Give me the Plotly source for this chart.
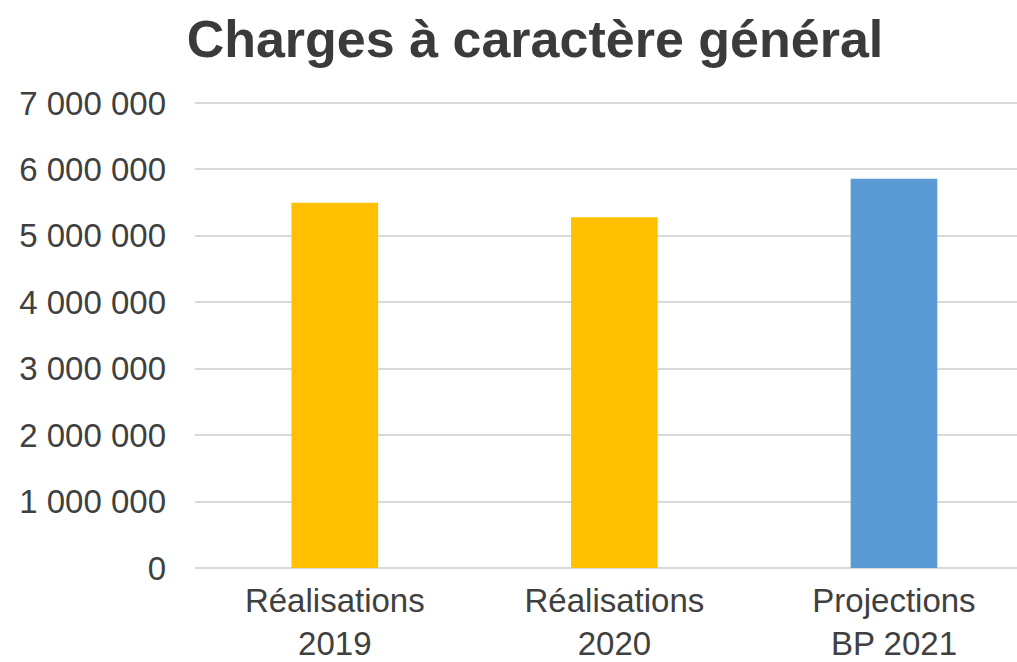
import plotly.graph_objects as go

categories = ["Réalisations<br>2019", "Réalisations<br>2020", "Projections<br>BP 2021"]
values = [5500000, 5280000, 5860000]
colors = ["#FFC000", "#FFC000", "#5B9BD5"]
tick_vals = [0, 1000000, 2000000, 3000000, 4000000, 5000000, 6000000, 7000000]
tick_text = ["0", "1 000 000", "2 000 000", "3 000 000", "4 000 000", "5 000 000", "6 000 000", "7 000 000"]
title = "Charges à caractère général"

fig = go.Figure(go.Bar(
    x=[0, 1, 2], y=values, marker=dict(color=colors, line=dict(width=0)),
    width=0.31,
))

font_family = "Liberation Sans, Arial, sans-serif"
fig.update_layout(
    width=1017, height=662,
    margin=dict(l=195, r=0, t=101, b=94),
    paper_bgcolor="white", plot_bgcolor="white",
    showlegend=False,
    title=dict(text="<b>" + title + "</b>", x=0.526, xanchor="center", y=0.942, yanchor="middle",
               font=dict(family=font_family, size=52, color="#3b3b3b")),
    font=dict(family=font_family, color="#404040"),
)
fig.update_xaxes(
    range=[-0.5, 2.44], tickvals=[0, 1, 2], ticktext=categories,
    showgrid=False, showline=False, zeroline=False, ticks="",
    tickfont=dict(size=33, color="#404040"), ticklabelstandoff=10,
    automargin=False,
)
fig.update_yaxes(
    range=[0, 7030000], tickvals=tick_vals, ticktext=tick_text,
    showgrid=True, gridcolor="#D9D9D9", gridwidth=2,
    zeroline=True, zerolinecolor="#D9D9D9", zerolinewidth=2,
    showline=False, ticks="",
    tickfont=dict(size=33, color="#404040"), ticklabelstandoff=28,
    automargin=False,
)
fig.write_html("out.html")
